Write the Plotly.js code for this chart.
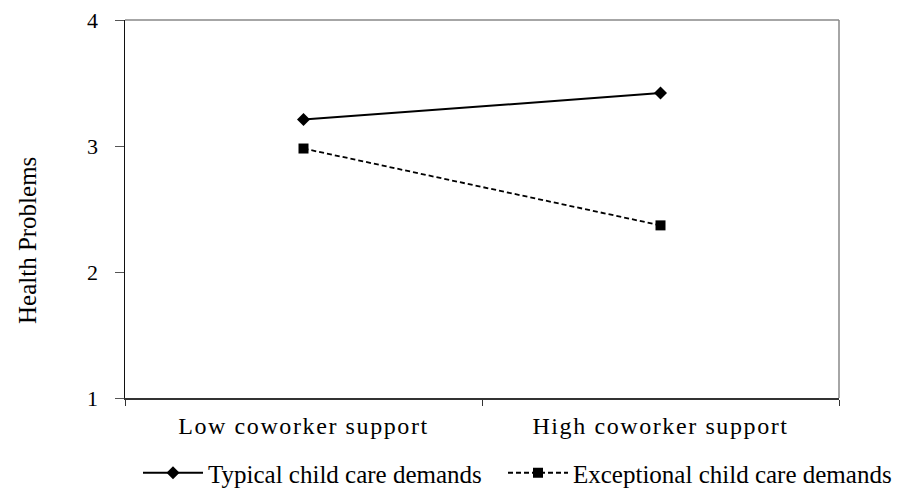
<!DOCTYPE html>
<html>
<head>
<meta charset="utf-8">
<script src="https://cdn.plot.ly/plotly-3.0.1.min.js"></script>
<style>
html,body{margin:0;padding:0;background:#fff;}
#chart{width:905px;height:490px;}
#chart .xtick text{letter-spacing:1.6px;}
</style>
</head>
<body>
<div id="chart"></div>
<script>
const categories = ["Low coworker support", "High coworker support"];
const typicalDemands = [3.21, 3.42];
const exceptionalDemands = [2.98, 2.37];
const yTickValues = [1, 2, 3, 4];
const seriesNames = ["Typical child care demands", "Exceptional child care demands"];
const yAxisTitle = "Health Problems";

const fontFamily = '"Liberation Serif", "Times New Roman", serif';

const traces = [
  {
    x: categories, y: typicalDemands, name: seriesNames[0], legend: 'legend',
    type: 'scatter', mode: 'lines+markers',
    line: {color: '#000', width: 2, dash: 'solid'},
    marker: {symbol: 'diamond', size: 10, color: '#000'}
  },
  {
    x: categories, y: exceptionalDemands, name: seriesNames[1], legend: 'legend2',
    type: 'scatter', mode: 'lines+markers',
    line: {color: '#000', width: 1.8, dash: '5px,3px'},
    marker: {symbol: 'square', size: 10, color: '#000'}
  }
];

const legendCommon = {
  orientation: 'h', xref: 'container', yref: 'container',
  xanchor: 'left', y: 1 - 473 / 490, yanchor: 'middle',
  font: {family: fontFamily, size: 25, color: '#000'},
  itemwidth: 60, bgcolor: 'rgba(0,0,0,0)'
};

const layout = {
  width: 905, height: 490,
  margin: {l: 125, r: 66, t: 20, b: 92},
  paper_bgcolor: '#fff', plot_bgcolor: '#fff',
  font: {family: fontFamily, size: 20, color: '#000'},
  showlegend: true,
  legend: Object.assign({}, legendCommon, {x: 138 / 905}),
  legend2: Object.assign({}, legendCommon, {x: 503 / 905}),
  xaxis: {
    type: 'category', range: [-0.5, 1.5], automargin: false,
    showgrid: false, zeroline: false,
    showline: true, linecolor: '#333', linewidth: 1.5,
    ticks: 'outside', ticklen: 6, tickcolor: '#333', tickson: 'boundaries',
    ticklabelstandoff: 6,
    tickfont: {family: fontFamily, size: 24, color: '#000'}
  },
  yaxis: {
    range: [1, 4], tickvals: yTickValues, automargin: false,
    showgrid: false, zeroline: false,
    showline: true, linecolor: '#111', linewidth: 1.5,
    ticks: 'outside', ticklen: 9, tickcolor: '#555',
    ticklabelstandoff: 12,
    tickfont: {family: fontFamily, size: 22, color: '#000'}
  },
  annotations: [
    {text: yAxisTitle, xref: 'paper', yref: 'paper', x: (27 - 125) / 714, y: (398 - 240) / 378,
     xanchor: 'center', yanchor: 'middle', textangle: -90, showarrow: false,
     font: {family: fontFamily, size: 25, color: '#000'}}
  ],
  shapes: [
    {type: 'line', xref: 'paper', yref: 'paper', x0: 0, x1: 1, y0: 1, y1: 1, line: {color: '#888', width: 1.5}},
    {type: 'line', xref: 'paper', yref: 'paper', x0: 1, x1: 1, y0: 0, y1: 1, line: {color: '#888', width: 1.5}}
  ]
};

Plotly.newPlot('chart', traces, layout, {displayModeBar: false, staticPlot: true});
</script>
</body>
</html>
